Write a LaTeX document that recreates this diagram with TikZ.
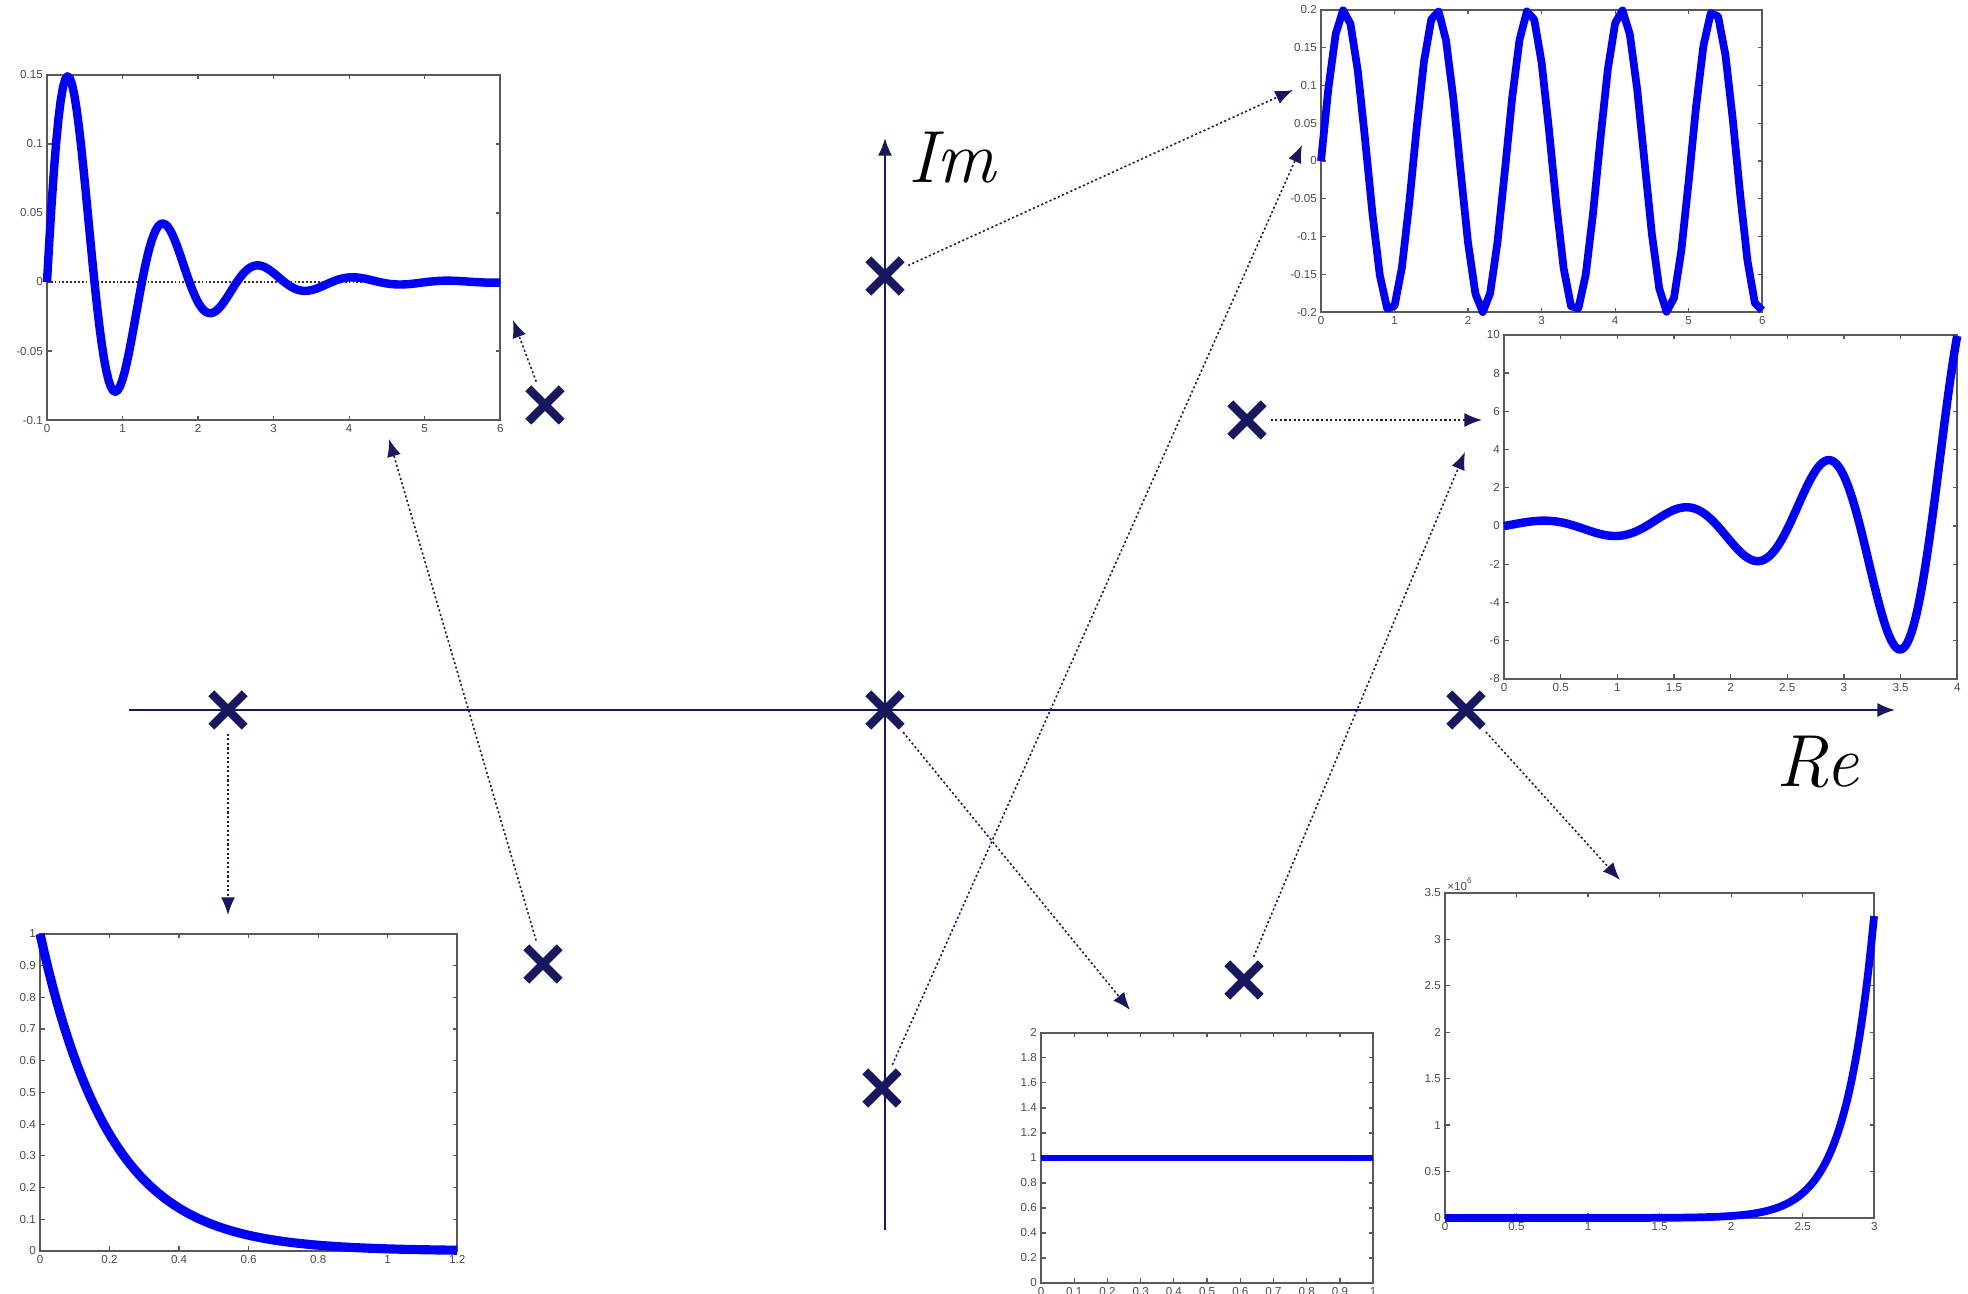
\documentclass[tikz,border=0pt]{standalone}
\usepackage{fontspec}
\newfontfamily\ticksfont{Liberation Sans}
\usetikzlibrary{arrows.meta,shapes.misc}

\definecolor{polenavy}{RGB}{24,24,96}
\definecolor{traceblue}{RGB}{0,0,250}

\tikzset{
  pole/.style={cross out, draw=polenavy, line width=2.4pt, minimum size=0.25cm, inner sep=0pt},
  axisline/.style={draw=polenavy, line width=0.6pt, -{Latex[length=5pt,width=4pt]}},
  link/.style={draw=polenavy, line width=0.45pt, dash pattern=on 0.6pt off 0.7pt,
    -{Latex[length=5pt,width=4pt]}, shorten <=2pt},
  axlabel/.style={font=\fontsize{21}{25}\selectfont\itshape},
  plotframe/.style={draw=black!65, line width=0.45pt, fill=white},
  plottick/.style={draw=black!65, line width=0.35pt},
  ticklabel/.style={font=\ticksfont\fontsize{3.3}{4}\selectfont, text=black!70, inner sep=1pt},
  curve/.style={draw=traceblue, line width=2.4pt, line join=round}
}

% matlab style box: name, xmin, xmax, ymin, ymax, xticks, yticks
\newcommand{\mplot}[7]{%
  \draw[plotframe] (#2,#4) rectangle (#3,#5);
  \foreach \t [count=\i] in {#6}{%
    \draw[plottick] (\t,#4) -- ++(0,1.3pt) (\t,#5) -- ++(0,-1.3pt);
    \node[ticklabel, below] (#1x\i) at (\t,#4) {\t};
  }
  \foreach \t [count=\i] in {#7}{%
    \draw[plottick] (#2,\t) -- ++(1.3pt,0) (#3,\t) -- ++(-1.3pt,0);
    \node[ticklabel, left] (#1y\i) at (#2,\t) {\t};
  }
}

\begin{document}
\begin{tikzpicture}[x=0.01cm, y=-0.01cm]
\useasboundingbox[fill=white] (0,0) rectangle (1968,1294);

% s-plane axes
\coordinate (reL) at (129,710);
\coordinate (reR) at (1895,710);
\coordinate (imB) at (885,1230);
\coordinate (imT) at (885,138);
\draw[axisline] (reL) -- (reR);
\draw[axisline] (imB) -- (imT);
\node[axlabel] (imlbl) at (952,158) {Im};
\node[axlabel] (relbl) at (1818,762) {Re};

% poles
\node[pole] (pA)  at (228,710) {};
\node[pole] (pO)  at (885,710) {};
\node[pole] (pR)  at (1466,710) {};
\node[pole] (pIu) at (885,276) {};
\node[pole] (pId) at (882,1088) {};
\node[pole] (pLu) at (545,405) {};
\node[pole] (pLd) at (543,964) {};
\node[pole] (pRu) at (1247,420) {};
\node[pole] (pRd) at (1244,980) {};

% responses
\begin{scope}[shift={(47,282)}, x=0.755cm, y=13.8cm]
  \mplot{tl}{0}{6}{-0.1}{0.15}{0,1,2,3,4,5,6}{-0.1,-0.05,0,0.05,0.1,0.15}
  \draw[black!80, line width=0.4pt, dash pattern=on 0.5pt off 0.6pt] (0,0) -- (6,0);
  \draw[curve] plot[domain=0:6, samples=200] (\x, {exp(-\x)*sin(5*\x r)/5});
\end{scope}

\begin{scope}[shift={(1321,161)}, x=0.735cm, y=7.55cm]
  \mplot{tr}{0}{6}{-0.2}{0.2}{0,1,2,3,4,5,6}{-0.2,-0.15,-0.1,-0.05,0,0.05,0.1,0.15,0.2}
  \draw[curve, line width=2.2pt] plot[domain=0:6, samples=61] (\x, {sin(5*\x r)/5});
\end{scope}

\begin{scope}[shift={(1504,526)}, x=1.1325cm, y=0.1911cm]
  \mplot{rm}{0}{4}{-8}{10}{0,0.5,1,1.5,2,2.5,3,3.5,4}{-8,-6,-4,-2,0,2,4,6,8,10}
  \draw[curve] plot[domain=0:4, samples=200] (\x, {exp(\x)*sin(5*\x r)/5});
\end{scope}

\begin{scope}[shift={(40,1251)}, x=3.475cm, y=3.17cm]
  \mplot{bl}{0}{1.2}{0}{1}{0,0.2,0.4,0.6,0.8,1,1.2}{0,0.1,0.2,0.3,0.4,0.5,0.6,0.7,0.8,0.9,1}
  \draw[curve, line width=2.6pt] plot[domain=0:1.2, samples=100] (\x, {exp(-5*\x)});
\end{scope}

\begin{scope}[shift={(1041,1283)}, x=3.32cm, y=1.25cm]
  \mplot{bm}{0}{1}{0}{2}{0,0.1,0.2,0.3,0.4,0.5,0.6,0.7,0.8,0.9,1}{0,0.2,0.4,0.6,0.8,1,1.2,1.4,1.6,1.8,2}
  \draw[curve, line width=1.6pt] (0,1) -- (1,1);
\end{scope}

\begin{scope}[shift={(1445,1218)}, x=1.43cm, y=0.9286cm]
  \mplot{br}{0}{3}{0}{3.5}{0,0.5,1,1.5,2,2.5,3}{0,0.5,1,1.5,2,2.5,3,3.5}
  \node[ticklabel, anchor=south west, inner sep=0.5pt] (brexp) at (0,3.5) {×10\textsuperscript{6}};
  \draw[curve, line width=2.2pt] plot[domain=0:3, samples=150] (\x, {exp(5*\x-13.8155)});
\end{scope}

% links from poles to their responses
\coordinate (tipTR1) at (1293,90);
\coordinate (tipTR2) at (1302,145);
\coordinate (tipTL1) at (513,320);
\coordinate (tipTL2) at (389,439);
\coordinate (tipBL)  at (228,915);
\coordinate (tipRM1) at (1482,420);
\coordinate (tipRM2) at (1465,452);
\coordinate (tipBM)  at (1130,1010);
\coordinate (tipBR)  at (1620,880);
\draw[link] (pIu) -- (tipTR1);
\draw[link] (pId) -- (tipTR2);
\draw[link] (pLu) -- (tipTL1);
\draw[link] (pLd) -- (tipTL2);
\draw[link] (pA)  -- (tipBL);
\draw[link] (pRu) -- (tipRM1);
\draw[link] (pRd) -- (tipRM2);
\draw[link] (pO)  -- (tipBM);
\draw[link] (pR)  -- (tipBR);
\end{tikzpicture}
\end{document}
